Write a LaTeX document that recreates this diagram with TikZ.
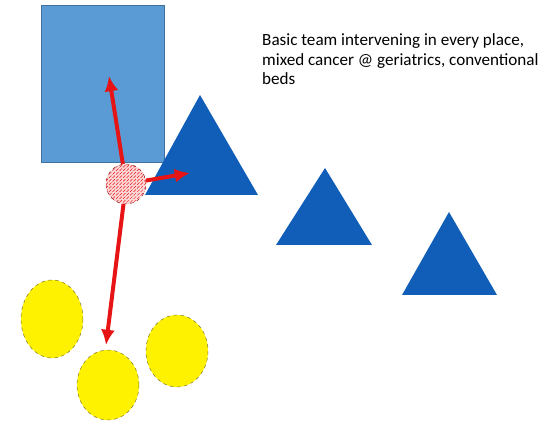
\documentclass[tikz,border=0pt]{standalone}
\usepackage{fontspec}
\setmainfont{Carlito}
\usepackage{tikz}
\usetikzlibrary{arrows.meta, patterns}
\definecolor{wardblue}{RGB}{91, 155, 213}
\definecolor{wardedge}{RGB}{65, 113, 156}
\definecolor{bedblue}{RGB}{16, 94, 184}
\definecolor{teamred}{RGB}{230, 20, 20}
\definecolor{patientedge}{RGB}{120, 110, 40}

\tikzset{
    hubarrow/.style={draw=teamred, line width=3.4pt, -{Latex[length=13pt, width=12pt]}},
    patient/.style={fill=yellow, draw=patientedge, dashed, thin}
}

\begin{document}
\begin{tikzpicture}[x=0.03cm, y=-0.03cm]
    \useasboundingbox (0,0) rectangle (548,424);

    % Ward and beds
    \draw[fill=wardblue, draw=wardedge] (41,5) rectangle (164,162);
    \fill[bedblue] (200,95) -- (258,195) -- (145,195) -- cycle;
    \fill[bedblue] (325,168) -- (372,245) -- (276,245) -- cycle;
    \fill[bedblue] (449,212) -- (497,295) -- (402,295) -- cycle;

    % Patients
    \draw[patient] (52,319) ellipse [x radius=31, y radius=39];
    \draw[patient] (108,385) ellipse [x radius=31, y radius=35];
    \draw[patient] (177,351) ellipse [x radius=31, y radius=36];

    % Team
    \node[circle, minimum size=1.2cm, inner sep=0pt, draw=teamred!60!black, dashed,
          fill=red!15, postaction={pattern=north east lines, pattern color=teamred}] (hub) at (126,184) {};
    \coordinate (wardTip) at (109,76);
    \coordinate (bedTip) at (190,173);
    \coordinate (patientTip) at (106,345);
    \draw[hubarrow] (hub) -- (wardTip);
    \draw[hubarrow] (hub) -- (bedTip);
    \draw[hubarrow] (hub) -- (patientTip);

    \node[anchor=north west, align=left, inner sep=0pt, font=\fontsize{14.6}{17}\selectfont] (caption) at (262,33)
        {Basic team intervening in every place,\\ mixed cancer @ geriatrics, conventional\\ beds};
\end{tikzpicture}
\end{document}
